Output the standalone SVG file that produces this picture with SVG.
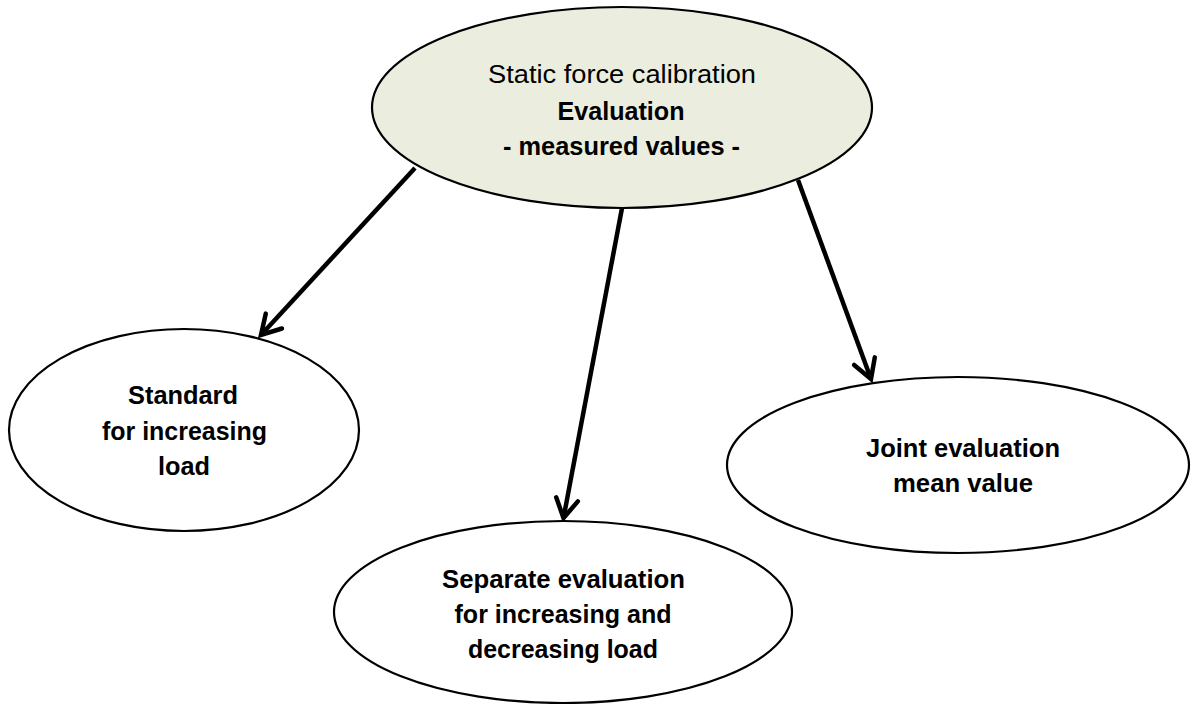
<svg xmlns="http://www.w3.org/2000/svg" width="1195" height="704" viewBox="0 0 1195 704">
  <style>
    .node { fill: #ffffff; stroke: #000000; stroke-width: 2.2; }
    .root { fill: #ebeedf; stroke: #000000; stroke-width: 2.2; }
    .t { font-family: "Liberation Sans", Arial, sans-serif; fill: #000000; text-anchor: middle; }
    .reg { font-size: 26px; }
    .b { font-size: 25px; font-weight: bold; }
    .conn { stroke: #000000; stroke-width: 4.5; fill: none; }
  </style>
  <defs>
    <marker id="arr" markerUnits="userSpaceOnUse" orient="auto" markerWidth="30" markerHeight="30" viewBox="-24 -15 28 30" refX="0" refY="0" overflow="visible">
      <path d="M -19,-11 L 0,0 L -19,11" fill="none" stroke="#000000" stroke-width="4.5" stroke-linecap="round" stroke-linejoin="miter"/>
    </marker>
  </defs>

  <g id="connectors">
    <line class="conn" x1="415" y1="168" x2="261" y2="335" marker-end="url(#arr)"/>
    <line class="conn" x1="622" y1="208" x2="563.5" y2="518" marker-end="url(#arr)"/>
    <line class="conn" x1="798" y1="180" x2="871" y2="379" marker-end="url(#arr)"/>
  </g>

  <g id="node-root">
    <ellipse class="root" cx="622" cy="107.5" rx="250" ry="100.5"/>
    <text class="t reg" x="622" y="83" textLength="268" lengthAdjust="spacingAndGlyphs">Static force calibration</text>
    <text class="t b" x="621" y="120" textLength="127" lengthAdjust="spacingAndGlyphs">Evaluation</text>
    <text class="t b" x="621.5" y="155" textLength="237" lengthAdjust="spacingAndGlyphs">- measured values -</text>
  </g>

  <g id="node-standard">
    <ellipse class="node" cx="184" cy="430" rx="175" ry="101"/>
    <text class="t b" x="183" y="404" textLength="110" lengthAdjust="spacingAndGlyphs">Standard</text>
    <text class="t b" x="184.5" y="440" textLength="165" lengthAdjust="spacingAndGlyphs">for increasing</text>
    <text class="t b" x="184" y="475" textLength="52" lengthAdjust="spacingAndGlyphs">load</text>
  </g>

  <g id="node-separate">
    <ellipse class="node" cx="563" cy="612" rx="229" ry="91"/>
    <text class="t b" x="563.5" y="588" textLength="243" lengthAdjust="spacingAndGlyphs">Separate evaluation</text>
    <text class="t b" x="563" y="623" textLength="217" lengthAdjust="spacingAndGlyphs">for increasing and</text>
    <text class="t b" x="563" y="658" textLength="190" lengthAdjust="spacingAndGlyphs">decreasing load</text>
  </g>

  <g id="node-joint">
    <ellipse class="node" cx="958" cy="465" rx="231" ry="88"/>
    <text class="t b" x="963" y="457" textLength="194" lengthAdjust="spacingAndGlyphs">Joint evaluation</text>
    <text class="t b" x="963" y="492" textLength="140" lengthAdjust="spacingAndGlyphs">mean value</text>
  </g>
</svg>
